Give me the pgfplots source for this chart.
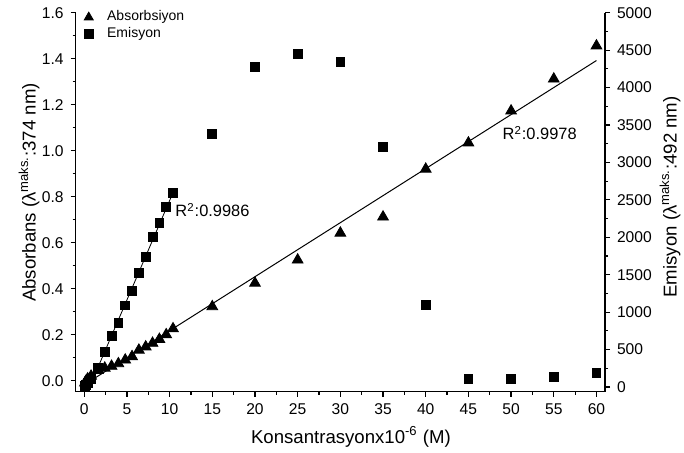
\documentclass[border=0pt]{standalone}
\usepackage{fontspec}
\setmainfont{Liberation Sans}
\usepackage{pgfplots}
\pgfplotsset{compat=1.18}

\pgfplotsset{
  base/.style={
    scale only axis, width=264.65pt, height=189.5pt,
    at={(0,0)}, anchor=south west,
    xmin=-1, xmax=61,
    tick align=outside, major tick length=2.5pt, minor tick length=1.5pt,
    every tick/.style={black, line width=0.6pt},
    axis line style={black, line width=0.75pt},
    tick label style={font=\fontsize{7.8}{9}\selectfont},
    label style={font=\fontsize{9.3}{11}\selectfont},
    /pgf/number format/assume math mode=true,
    /pgf/number format/1000 sep={},
  }
}

\begin{document}
\begin{tikzpicture}
\useasboundingbox (-37.85pt,-30.65pt) rectangle (304.15pt,195.85pt);

% absorbance, left axis
\begin{axis}[base,
    axis x line*=bottom, axis y line*=left,
    xtick={0,5,...,60}, minor x tick num=1,
    ymin=-0.048, ymax=1.6,
    ytick={0,0.2,0.4,0.6,0.8,1.0,1.2,1.4,1.6}, minor y tick num=1,
    yticklabel style={/pgf/number format/.cd, fixed, fixed zerofill, precision=1},
    xlabel={Konsantrasyonx10\textsuperscript{-6} (M)},
    ylabel={Absorbans (λ\textsuperscript{maks.}:374 nm)},
    xlabel style={at={(axis description cs:0.52,-0.1195)}, anchor=center},
    ylabel style={at={(axis description cs:-0.088,0.5256)}, anchor=center},
]
\addplot[black, line width=0.5pt, forget plot] coordinates {(0,-0.018) (60,1.392)};
\addplot[only marks, mark=triangle*, mark size=3.1pt, black] coordinates {
 (0.08,-0.01) (0.16,-0.005) (0.24,0.0) (0.4,0.008) (0.8,0.02) (1.6,0.045)
 (2.4,0.055) (3.2,0.063) (4.0,0.074) (4.8,0.09) (5.6,0.105) (6.4,0.133)
 (7.2,0.147) (8.0,0.163) (8.8,0.18) (9.6,0.2) (10.4,0.226)
 (15,0.322) (20,0.424) (25,0.525) (30,0.642) (35,0.712) (40,0.92)
 (45,1.034) (50,1.173) (55,1.312) (60,1.456)};
\node[anchor=west, font=\fontsize{8.2}{9}\selectfont, inner sep=0pt] at (axis cs:10.64,0.742) {R\textsuperscript{2}:0.9986};
\node[anchor=west, font=\fontsize{8.2}{9}\selectfont, inner sep=0pt] at (axis cs:48.97,1.077) {R\textsuperscript{2}:0.9978};
\end{axis}

% emission, right axis
\begin{axis}[base,
    axis y line*=right, axis x line=none,
    ymin=-63, ymax=5000,
    ytick={0,500,...,5000}, minor y tick num=1,
    scaled y ticks=false,
    ylabel={Emisyon (λ\textsuperscript{maks.}:492 nm)},
    ylabel style={at={(axis description cs:1.123,0.514)}, anchor=center},
    legend style={at={(axis description cs:0.004,1.022)}, anchor=north west,
      draw=none, fill=none, font=\fontsize{7}{8}\selectfont,
      row sep=-2.4pt, inner sep=1pt},
    legend cell align=left,
    legend image code/.code={
      \path[draw=none, fill=none] (0,0) rectangle (0.15cm+7.2pt,0);
      \draw[#1] plot coordinates {(0.15cm,0cm)};},
]
\addlegendimage{only marks, mark=triangle*, mark size=2.6pt, black}
\addlegendentry{Absorbsiyon}
\addplot[black, line width=0.4pt, forget plot] coordinates {(0.8,47) (10.4,2596)};
\addplot[only marks, mark=square*, mark size=2.2pt, black] coordinates {
 (0.08,10) (0.16,20) (0.24,30) (0.4,50) (0.8,110) (1.6,260)
 (2.4,472) (3.2,681) (4.0,851) (4.8,1091) (5.6,1286) (6.4,1527)
 (7.2,1733) (8.0,2000) (8.8,2195) (9.6,2409) (10.4,2596)
 (15,3380) (20,4275) (25,4448) (30,4341) (35,3206) (40,1095)
 (45,107) (50,107) (55,134) (60,187)};
\addlegendentry{Emisyon}
\end{axis}
\end{tikzpicture}
\end{document}
